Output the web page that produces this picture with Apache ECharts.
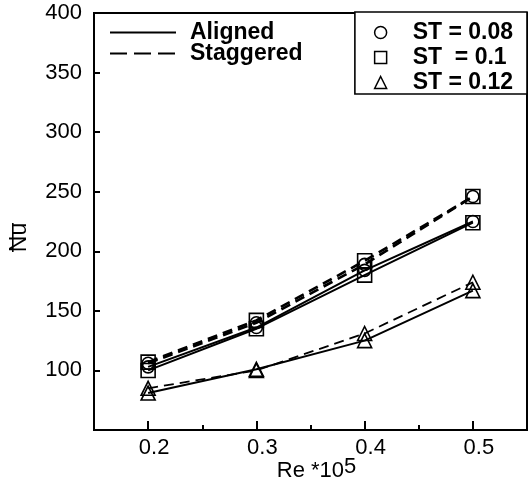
<!DOCTYPE html>
<html>
<head>
<meta charset="utf-8">
<script src="https://cdn.jsdelivr.net/npm/echarts@6/dist/echarts.min.js"></script>
<style>html,body{margin:0;padding:0;background:#fff}#c{width:530px;height:491px}</style>
</head>
<body>
<div id="c"></div>
<script>
const reValues = [0.2, 0.3, 0.4, 0.5];
const xTickLabels = [0.2, 0.3, 0.4, 0.5];
const xMinorTicks = [0.25, 0.35, 0.45];
const yTickLabels = [100, 150, 200, 250, 300, 350, 400];

const alignedST008 = [103, 136, 184, 225];
const alignedST010 = [100, 135, 180, 224];
const alignedST012 = [81, 101, 125, 167];
const staggeredST008 = [106, 140, 189, 246];
const staggeredST010 = [107, 142, 192, 246];
const staggeredST012 = [85, 100, 131, 174];

const FONT = 'Liberation Sans';
const chart = echarts.init(document.getElementById('c'), null, {renderer: 'canvas'});

function pairs(vals) { return reValues.map((x, i) => [x, vals[i]]); }
const hollow = {color: 'rgba(0,0,0,0)', borderColor: '#000', borderWidth: 1.6};

function dataSeries(name, vals, symbol, size, dashed, width) {
  return {
    name: name, type: 'line', data: pairs(vals), symbol: symbol, symbolSize: size,
    showSymbol: true, xAxisIndex: 0, yAxisIndex: 0,
    lineStyle: {color: '#000', width: width, type: dashed ? [10, 6] : 'solid'},
    itemStyle: hollow, z: 3, silent: true
  };
}

const series = [
  dataSeries('a008', alignedST008, 'circle', 12, false, 2),
  dataSeries('a010', alignedST010, 'rect', 14, false, 2),
  dataSeries('a012', alignedST012, 'triangle', 14, false, 2),
  dataSeries('s008', staggeredST008, 'circle', 12, true, 2.6),
  dataSeries('s010', staggeredST010, 'rect', 14, true, 2.6),
  dataSeries('s012', staggeredST012, 'triangle', 14, true, 1.8),
  {name: 'Aligned', type: 'line', data: [], symbol: 'none', lineStyle: {color: '#000', width: 2}, itemStyle: {color: '#000'}},
  {name: 'Staggered', type: 'line', data: [], symbol: 'none', lineStyle: {color: '#000', width: 2, type: [17, 7]}, itemStyle: {color: '#000'}},
  {name: 'ST = 0.08', type: 'line', data: [], symbol: 'circle', itemStyle: hollow},
  {name: 'ST  = 0.1', type: 'line', data: [], symbol: 'rect', itemStyle: hollow},
  {name: 'ST = 0.12', type: 'line', data: [], symbol: 'triangle', itemStyle: hollow}
];

const option = {
  animation: false,
  backgroundColor: '#fff',
  grid: {left: 94, right: 3, top: 13, bottom: 61, show: true, borderColor: '#000', borderWidth: 2,
    backgroundColor: 'transparent', containLabel: false, outerBoundsMode: 'none'},
  legend: [
    {
      data: ['Aligned', 'Staggered'], orient: 'vertical', left: 104, top: 16,
      itemWidth: 66, itemHeight: 14, itemGap: -2,
      itemStyle: {opacity: 0},
      textStyle: {fontFamily: FONT, fontWeight: 'bold', fontSize: 23, color: '#000', padding: [0, 0, 0, 9]},
      selectedMode: false
    },
    {
      data: [
        {name: 'ST = 0.08', icon: 'circle'},
        {name: 'ST  = 0.1', icon: 'rect'},
        {name: 'ST = 0.12', icon: 'triangle'}
      ],
      orient: 'vertical', right: 3, top: 12, padding: [9, 14, 0, 19],
      itemWidth: 12, itemHeight: 12, itemGap: 2,
      borderColor: '#000', borderWidth: 1.6, backgroundColor: '#fff',
      itemStyle: {color: '#fff', borderColor: '#000', borderWidth: 1.5},
      textStyle: {fontFamily: FONT, fontWeight: 'bold', fontSize: 23, color: '#000', padding: [0, 0, 0, 21]},
      selectedMode: false
    }
  ],
  xAxis: [
    {
      type: 'value', min: 0.15, max: 0.55, position: 'bottom',
      name: 'Re *10{s|5}', nameLocation: 'middle', nameGap: 26, nameMoveOverlap: false,
      nameTextStyle: {fontFamily: FONT, fontSize: 22, color: '#000', padding: [0, 0, 0, 12],
        rich: {s: {fontFamily: FONT, fontSize: 22, color: '#000', verticalAlign: 'bottom', padding: [0, 0, 8, 0]}}},
      axisLine: {show: true, lineStyle: {color: '#000', width: 2}},
      axisTick: {show: true, inside: true, length: 9, customValues: xTickLabels, lineStyle: {color: '#000', width: 2}},
      axisLabel: {customValues: xTickLabels, fontFamily: FONT, fontSize: 22, color: '#000', margin: 7,
        padding: [0, 0, 0, 12],
        formatter: v => String(Math.round(v * 10) / 10)},
      splitLine: {show: false}
    },
    {
      type: 'value', min: 0.15, max: 0.55, position: 'bottom', gridIndex: 0,
      axisLine: {show: false},
      axisTick: {show: true, inside: true, length: 5, customValues: xMinorTicks, lineStyle: {color: '#000', width: 2}},
      axisLabel: {show: false}, splitLine: {show: false}
    }
  ],
  yAxis: {
    type: 'value', min: 50, max: 400, interval: 50,
    name: 'Nu', nameLocation: 'middle', nameGap: 63, nameRotate: 90, nameMoveOverlap: false,
    nameTextStyle: {fontFamily: FONT, fontSize: 23, color: '#000', padding: [0, 32, 0, 0]},
    axisLine: {show: true, lineStyle: {color: '#000', width: 2}},
    axisTick: {show: true, inside: true, length: 6, customValues: yTickLabels, lineStyle: {color: '#000', width: 2}},
    axisLabel: {customValues: yTickLabels, fontFamily: FONT, fontSize: 22, color: '#000', margin: 12},
    splitLine: {show: false}
  },
  series: series
};
chart.setOption(option);

// overline over the rotated "Nu" axis title
chart.setOption({
  graphic: [{type: 'rect', left: 12, top: 223, shape: {width: 1.6, height: 29}, style: {fill: '#000'}, silent: true}]
});
</script>
</body>
</html>
